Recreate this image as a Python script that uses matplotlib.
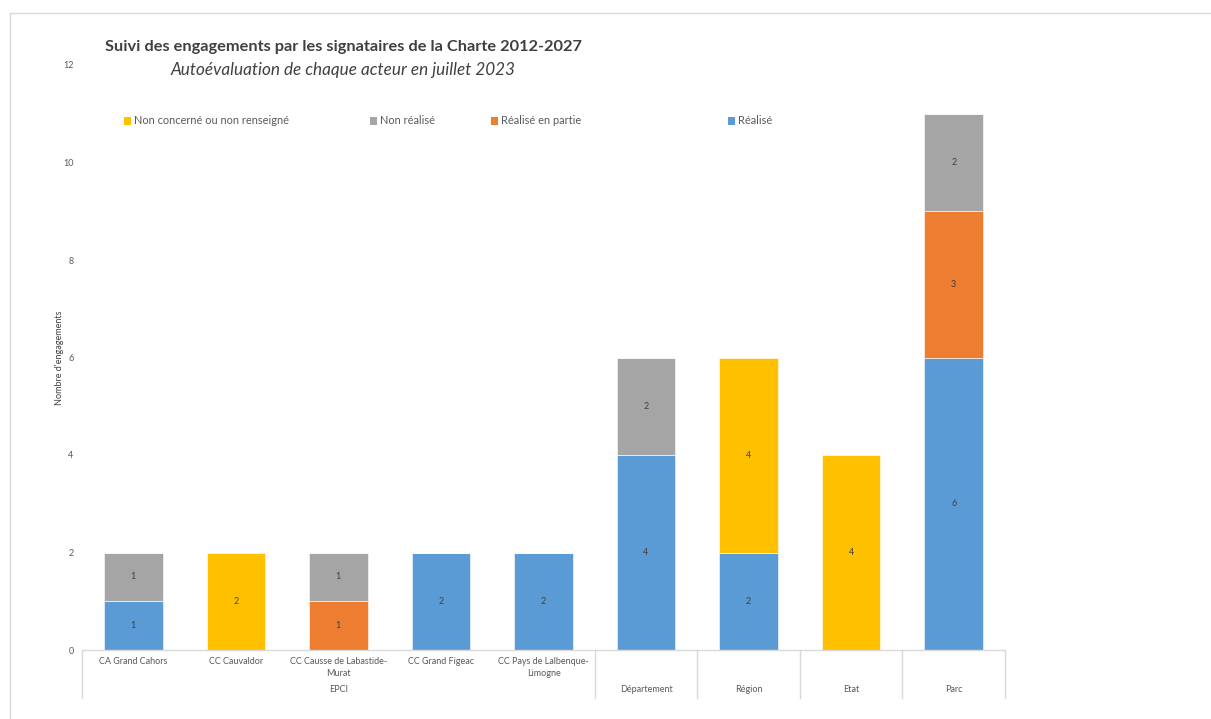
import matplotlib
matplotlib.use("Agg")
import matplotlib.pyplot as plt
from matplotlib.patches import Rectangle
import numpy as np

categories = ["CA Grand Cahors", "CC Cauvaldor", "CC Causse de Labastide-\nMurat",
              "CC Grand Figeac", "CC Pays de Lalbenque-\nLimogne",
              "", "", "", ""]
groups = ["EPCI", "Département", "Région", "Etat", "Parc"]
group_sizes = [5, 1, 1, 1, 1]

realise = [1, 0, 0, 2, 2, 4, 2, 0, 6]
realise_partie = [0, 0, 1, 0, 0, 0, 0, 0, 3]
non_realise = [1, 0, 1, 0, 0, 2, 0, 0, 2]
non_concerne = [0, 2, 0, 0, 0, 0, 4, 4, 0]

series = [
    ("Réalisé", realise, "#5B9BD5"),
    ("Réalisé en partie", realise_partie, "#ED7D31"),
    ("Non réalisé", non_realise, "#A5A5A5"),
    ("Non concerné ou non renseigné", non_concerne, "#FFC000"),
]

plt.rcParams['font.family'] = ['Lato', 'DejaVu Sans']
W, H = 1211, 719
fig = plt.figure(figsize=(W / 100, H / 100), dpi=100)

# outer frame
fig.add_artist(plt.Line2D([10 / W, 1], [1 - 13 / H, 1 - 13 / H], color="#D9D9D9", lw=1))
fig.add_artist(plt.Line2D([10 / W, 10 / W], [0, 1 - 13 / H], color="#D9D9D9", lw=1))

x0, x1, ybot, ytop = 82, 1005, 650, 65
ax = fig.add_axes([x0 / W, 1 - ybot / H, (x1 - x0) / W, (ybot - ytop) / H])

x = np.arange(len(categories))
bottom = np.zeros(len(categories))
for name, vals, col in series:
    vals = np.array(vals, dtype=float)
    ax.bar(x, vals, 0.57, bottom=bottom, color=col, edgecolor="white", linewidth=0.4, label=name)
    for xi, v, b in zip(x, vals, bottom):
        if v > 0:
            ax.text(xi, b + v / 2, f"{int(v)}", ha="center", va="center", fontsize=6.5, color="#404040")
    bottom += vals

ax.set_xlim(-0.5, len(categories) - 0.5)
ax.set_ylim(0, 12)
ax.set_yticks(range(0, 13, 2))
ax.tick_params(axis="y", length=0, labelsize=6.5, labelcolor="#595959", pad=6)
ax.set_xticks(x)
ax.set_xticklabels(categories, fontsize=6.5, color="#595959", va="top", linespacing=1.5)
ax.tick_params(axis="x", length=0, pad=5)
for s in ["top", "right", "left"]:
    ax.spines[s].set_visible(False)
ax.spines["bottom"].set_color("#D9D9D9")
ax.spines["bottom"].set_linewidth(1)

ax.set_ylabel("Nombre d'engagements", fontsize=6.5, color="#404040", labelpad=0)
ax.yaxis.set_label_coords(-(82 - 64) / (x1 - x0), 0.5)

# group separators and labels
trans = ax.get_xaxis_transform()
sep_h = (698 - 650) / (ybot - ytop)
lab_y = -(690 - 650) / (ybot - ytop)
pos = -0.5
seps = [pos]
for g, n in zip(groups, group_sizes):
    ax.text(pos + n / 2, lab_y, g, transform=trans, ha="center", va="center",
            fontsize=6.5, color="#595959")
    pos += n
    seps.append(pos)
for s in seps:
    ax.plot([s, s], [0, -sep_h], transform=trans, color="#D9D9D9", lw=1, clip_on=False)

# legend (manual placement, reverse order)
leg_items = [series[3], series[2], series[1], series[0]]
leg_x = [124, 370, 491, 728]
leg_y = 121
for (name, _, col), lx in zip(leg_items, leg_x):
    fig.add_artist(Rectangle((lx / W, 1 - (leg_y + 3.5) / H), 7 / W, 7 / H,
                             facecolor=col, edgecolor="none", transform=fig.transFigure))
    fig.text((lx + 10) / W, 1 - leg_y / H, name, fontsize=7.9, color="#595959", va="center", ha="left")

fig.text(343 / W, 1 - 47 / H, "Suivi des engagements par les signataires de la Charte 2012-2027",
         fontsize=11.8, fontweight="bold", color="#404040", ha="center", va="center")
fig.text(343 / W, 1 - 70 / H, "Autoévaluation de chaque acteur en juillet 2023",
         fontsize=12.3, style="italic", color="#404040", ha="center", va="center")

fig.savefig("out.png", dpi=100, facecolor="white")
